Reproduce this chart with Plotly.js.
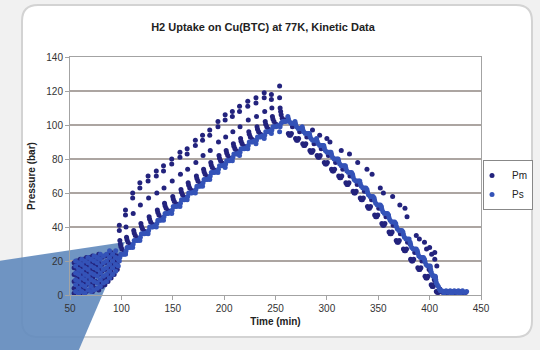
<!DOCTYPE html>
<html><head><meta charset="utf-8">
<script src="https://cdn.plot.ly/plotly-3.0.1.min.js"></script>
<style>html,body{margin:0;padding:0;background:#f1f1f1}#chart{width:540px;height:350px}</style>
</head><body><div id="chart"></div>
<script>
const seriesNames = ['Pm', 'Ps'];
const xTicks = [50, 100, 150, 200, 250, 300, 350, 400, 450];
const yTicks = [0, 20, 40, 60, 80, 100, 120, 140];

const pmTime = [
54,54,54,54,54,54,
57,57,57,57,57,57,
60,60,60,60,60,60,
63,63,63,63,63,63,
66,66,66,66,66,66,
69,69,69,69,69,69,
72,72,72,72,72,72,
75,75,75,75,75,
78,78,78,78,78,78,
81,81,81,81,81,
84,84,84,84,84,
87,87,87,87,87,
90,90,90,90,90,
93,93,93,93,
96,96,96,
98,98,98.5,99,99.5,100.5,102.5,104,
104,104,104.5,105,105.5,106.5,108.5,110,
111,111,111.5,112,112.5,113.5,115.5,117,
118,118,118.5,119,119.5,120.5,122.5,124,
126,126,126.5,127,127.5,128.5,130.5,132,
134,134,134.5,135,135.5,136.5,138.5,140,
141,141,141.5,142,142.5,143.5,145.5,147,
149,149,149.5,150,150.5,151.5,153.5,155,
157,157,157.5,158,158.5,159.5,161.5,163,
164,164,164.5,165,165.5,166.5,168.5,170,
172,172,172.5,173,173.5,174.5,176.5,178,
179,179,179.5,180,180.5,181.5,183.5,185,
186,186,186.5,187,187.5,188.5,190.5,192,
194,194,194.5,195,195.5,196.5,198.5,200,
201,201,201.5,202,202.5,203.5,205.5,207,
208,208,208.5,209,209.5,210.5,212.5,214,
215,215,215.5,216,216.5,217.5,219.5,221,
223,223,223.5,224,224.5,225.5,227.5,229,
231,231,231.5,232,232.5,233.5,235.5,237,
239,239,239.5,240,240.5,241.5,243.5,245,
246,246,246.5,247,247.5,248.5,250.5,252,
254,254,254.5,255,255.5,256.5,258.5,260,
262,262.5,263.5,264.5,265.5,266.5,267.5,
269,269.5,270.5,271.5,272.5,273.5,274.5,
276,276.5,277.5,278.5,279.5,280.5,281.5,
283,283.5,284.5,285.5,286.5,287.5,288.5,
290,290.5,291.5,292.5,293.5,294.5,295.5,
297,297.5,298.5,299.5,300.5,301.5,302.5,
304,304.5,305.5,306.5,307.5,308.5,309.5,
311,311.5,312.5,313.5,314.5,315.5,316.5,
318,318.5,319.5,320.5,321.5,322.5,323.5,
325,325.5,326.5,327.5,328.5,329.5,330.5,
332,332.5,333.5,334.5,335.5,336.5,337.5,
339,339.5,340.5,341.5,342.5,343.5,344.5,
346,346.5,347.5,348.5,349.5,350.5,351.5,
353,353.5,354.5,355.5,356.5,357.5,358.5,
360,360.5,361.5,362.5,363.5,364.5,365.5,
367,367.5,368.5,369.5,370.5,371.5,372.5,
374,374.5,375.5,376.5,377.5,378.5,379.5,
381,381.5,382.5,383.5,384.5,385.5,386.5,
388,388.5,389.5,390.5,391.5,392.5,393.5,
395,395.5,396.5,397.5,398.5,399.5,400.5,
401,401.5,402.5,403.5,404,404.5,405.5,
406,406.5,407.5,408.5,409,409.5,410,
286,293,300,303,314,322,330,339,344,352,355,364,
371,376,378,387,390,395,397,400,402,405,405,407,
411,413,415,417,419,421,423,425,427,429,431,433,435
];
const pmPressure = [
1,4,8,12,16,19,
2,6,10,14,18,20,
1,5,9,13,17,21,
3,7,11,15,19,21,
2,6,10,14,18,22,
3,8,12,16,20,22,
2,6,10,15,19,23,
4,8,13,17,21,
3,7,12,16,20,24,
5,9,14,18,22,
6,10,15,19,23,
8,12,16,20,24,
10,14,18,22,25,
12,16,20,24,
15,19,23,
41,38,32,30,28.5,27,25.5,24.5,
50,47,40,34,32.5,31,29.5,28.5,
60,57,48,38,36.5,35,33.5,32.5,
66,63,53,42,40.5,39,37.5,36.5,
70,67,57,46,44.5,43,41.5,40.5,
73,70,60,50,48.5,47,45.5,44.5,
76,73,63,54,52.5,51,49.5,48.5,
80,77,67,58,56.5,55,53.5,52.5,
84,81,71,62,60.5,59,57.5,56.5,
86,83,74,66,64.5,63,61.5,60.5,
91,88,78,70,68.5,67,65.5,64.5,
94,91,82,74,72.5,71,69.5,68.5,
97,94,85,78,76.5,75,73.5,72.5,
102,99,90,82,80.5,79,77.5,76.5,
106,103,93,85,83.5,82,80.5,79.5,
108,105,96,89,87.5,86,84.5,83.5,
111,108,99,92,90.5,89,87.5,86.5,
114,111,103,96,94.5,93,91.5,90.5,
116,113,105,99,97.5,96,94.5,93.5,
119,116,108,102,100.5,99,97.5,96.5,
118,115,110,105,103.5,102,100.5,99.5,
123,116,110,108,106,104,103,102.5,
104,95,94,94,95,99,100.5,
101,92,91,91,92,96,97.5,
98,89,88,88,89,93,94.5,
94,85,84,84,85,89,90.5,
91,82,81,81,82,86,87.5,
87,78,77,77,78,82,83.5,
83,74,73,73,74,78,79.5,
79,70,69,69,70,74,75.5,
75,66,65,65,66,70,71.5,
70,61,60,60,61,65,66.5,
66,57,56,56,57,61,62.5,
61,52,51,51,52,56,57.5,
56,47,46,46,47,51,52.5,
51,42,41,41,42,46,47.5,
46,37,36,36,37,41,42.5,
41,32,31,31,32,36,37.5,
36,27,26,26,27,31,32.5,
30,21,20,20,21,25,26.5,
25,16,15,15,16,20,21.5,
20,11,10,10,11,15,16.5,
14,6,5,5,6,9,10.5,
8,2,1.5,1.5,2,3,3.5,
97,94,92,90,85,83,78,74,71,63,60,58,
53,51,46,35,33,31,27,28,24,25,21,17,
2,1.5,2,1,2,1.5,2,1,2,1.5,2,1,1.5
];

const psTime = [
55.5,55.5,55.5,55.5,55.5,55.5,
58.5,58.5,58.5,58.5,58.5,58.5,
61.5,61.5,61.5,61.5,61.5,61.5,
64.5,64.5,64.5,64.5,64.5,64.5,
67.5,67.5,67.5,67.5,67.5,67.5,
70.5,70.5,70.5,70.5,70.5,70.5,
73.5,73.5,73.5,73.5,73.5,73.5,
76.5,76.5,76.5,76.5,76.5,76.5,
79.5,79.5,79.5,79.5,79.5,79.5,
82.5,82.5,82.5,82.5,82.5,
85.5,85.5,85.5,85.5,85.5,
88.5,88.5,88.5,88.5,88.5,
91.5,91.5,91.5,91.5,
94.5,94.5,94.5,94.5,
97,97,
98,98.5,99.5,101,102.5,104,
104,104.5,105.5,107,108.5,110,
111,111.5,112.5,114,115.5,117,
118,118.5,119.5,121,122.5,124,
126,126.5,127.5,129,130.5,132,
134,134.5,135.5,137,138.5,140,
141,141.5,142.5,144,145.5,147,
149,149.5,150.5,152,153.5,155,
157,157.5,158.5,160,161.5,163,
164,164.5,165.5,167,168.5,170,
172,172.5,173.5,175,176.5,178,
179,179.5,180.5,182,183.5,185,
186,186.5,187.5,189,190.5,192,
194,194.5,195.5,197,198.5,200,
201,201.5,202.5,204,205.5,207,
208,208.5,209.5,211,212.5,214,
215,215.5,216.5,218,219.5,221,
223,223.5,224.5,226,227.5,229,
231,231.5,232.5,234,235.5,237,
239,239.5,240.5,242,243.5,245,
246,246.5,247.5,249,250.5,252,
254,254.5,255.5,257,258.5,260,
262,262.5,263.5,265,266.5,268,
269,269.5,270.5,272,273.5,275,
276,276.5,277.5,279,280.5,282,
283,283.5,284.5,286,287.5,289,
290,290.5,291.5,293,294.5,296,
297,297.5,298.5,300,301.5,303,
304,304.5,305.5,307,308.5,310,
311,311.5,312.5,314,315.5,317,
318,318.5,319.5,321,322.5,324,
325,325.5,326.5,328,329.5,331,
332,332.5,333.5,335,336.5,338,
339,339.5,340.5,342,343.5,345,
346,346.5,347.5,349,350.5,352,
353,353.5,354.5,356,357.5,359,
360,360.5,361.5,363,364.5,366,
367,367.5,368.5,370,371.5,373,
374,374.5,375.5,377,378.5,380,
381,381.5,382.5,384,385.5,387,
388,388.5,389.5,391,392.5,394,
395,395.5,396.5,398,399.5,400.5,
401,401.5,402.5,403.5,404.5,405.5,
406,406.5,407.5,408.5,409.5,410.5,
412,414,416,418,420,422,424,426,428,430,432,434,436
];
const psPressure = [
2,6,9,13,17,20,
1,4,8,12,15,19,
2,6,10,14,18,21,
1,5,9,12,16,20,
3,7,11,15,19,22,
2,5,9,13,17,21,
3,8,12,16,20,23,
4,7,11,15,19,22,
5,9,13,17,21,24,
7,11,15,19,23,
8,12,16,20,24,
10,14,18,22,26,
12,16,20,24,
14,18,22,26,
17,21,
20,22,24,24,24,24.5,
24,26,28,28,28,28.5,
28,30,32,32,32,32.5,
32,34,36,36,36,36.5,
36,38,40,40,40,40.5,
40,42,44,44,44,44.5,
44,46,48,48,48,48.5,
48,50,52,52,52,52.5,
52,54,56,56,56,56.5,
56,58,60,60,60,60.5,
60,62,64,64,64,64.5,
64,66,68,68,68,68.5,
68,70,72,72,72,72.5,
72,74,76,76,76,76.5,
75,77,79,79,79,79.5,
79,81,83,83,83,83.5,
82,84,86,86,86,86.5,
86,88,90,90,90,90.5,
89,91,93,93,93,93.5,
92,94,96,96,96,96.5,
95,97,99,99,99,99.5,
96,99,101,102,102,102,
105,103.5,102,101,101,101,
102,100.5,99,98,98,98,
99,97.5,96,95,95,95,
95,93.5,92,91,91,91,
92,90.5,89,88,88,88,
88,86.5,85,84,84,84,
84,82.5,81,80,80,80,
80,78.5,77,76,76,76,
76,74.5,73,72,72,72,
71,69.5,68,67,67,67,
67,65.5,64,63,63,63,
62,60.5,59,58,58,58,
57,55.5,54,53,53,53,
52,50.5,49,48,48,48,
47,45.5,44,43,43,43,
42,40.5,39,38,38,38,
37,35.5,34,33,33,33,
31,29.5,28,27,27,27,
26,24.5,23,22,22,22,
21,19.5,18,17,17,17,
15,13.5,12,11,11,11,
9,7,6,5,3.5,2.5,
2.5,1,2.5,1.5,2.5,1,2.5,1.5,2.5,1,2.5,1.5,2
];

// plot-area geometry in pixels (for decorative shapes)
const L = 70, R = 481, T = 57, B = 295;
const fx = p => (p - L) / (R - L);
const fy = p => (B - p) / (B - T);
function roundedBox(x0, y0, x1, y1, r) {
  return `M ${fx(x0 + r)} ${fy(y0)} L ${fx(x1 - r)} ${fy(y0)} Q ${fx(x1)} ${fy(y0)} ${fx(x1)} ${fy(y0 + r)} ` +
    `L ${fx(x1)} ${fy(y1 - r)} Q ${fx(x1)} ${fy(y1)} ${fx(x1 - r)} ${fy(y1)} ` +
    `L ${fx(x0 + r)} ${fy(y1)} Q ${fx(x0)} ${fy(y1)} ${fx(x0)} ${fy(y1 - r)} ` +
    `L ${fx(x0)} ${fy(y0 + r)} Q ${fx(x0)} ${fy(y0)} ${fx(x0 + r)} ${fy(y0)} Z`;
}
const wedge = `M ${fx(-2)} ${fy(261)} L ${fx(125)} ${fy(242)} L ${fx(78)} ${fy(352)} L ${fx(-2)} ${fy(352)} Z`;

const FONT = 'Liberation Sans, Arial, sans-serif';

const traces = [
  { type: 'scatter', mode: 'markers', name: seriesNames[0], x: pmTime, y: pmPressure,
    marker: { color: '#23237d', size: 5 } },
  { type: 'scatter', mode: 'markers', name: seriesNames[1], x: psTime, y: psPressure,
    marker: { color: '#3453b8', size: 5 } }
];

const layout = {
  width: 540, height: 350,
  paper_bgcolor: '#f1f1f1', plot_bgcolor: 'rgba(0,0,0,0)',
  margin: { l: L, r: 540 - R, t: T, b: 350 - B, pad: 0, autoexpand: false },
  font: { family: FONT, size: 10, color: '#333' },
  title: { text: 'H2 Uptake on Cu(BTC) at 77K, Kinetic Data', font: { family: FONT, size: 11, color: '#222', weight: 'bold' },
    xref: 'container', yref: 'container', x: 263 / 540, xanchor: 'center', y: 1 - 27 / 350, yanchor: 'middle' },
  xaxis: { range: [50, 450], tickvals: xTicks, ticktext: xTicks.map(String), showgrid: false, zeroline: false,
    showline: true, linecolor: '#a3a3a3', linewidth: 1, mirror: true,
    ticks: 'outside', ticklen: 4, tickcolor: '#a3a3a3', tickfont: { size: 10, color: '#333' },
    title: { text: 'Time (min)', font: { size: 10, color: '#222', weight: 'bold' }, standoff: 4 } },
  yaxis: { range: [0, 140], tickvals: yTicks, ticktext: yTicks.map(String), showgrid: true, gridcolor: '#aca5a1', gridwidth: 1.2,
    zeroline: false, showline: true, linecolor: '#a3a3a3', linewidth: 1, mirror: true,
    ticks: 'outside', ticklen: 4, tickcolor: '#a3a3a3', tickfont: { size: 10, color: '#333' },
    title: { text: 'Pressure (bar)', font: { size: 10, color: '#222', weight: 'bold' }, standoff: 8 } },
  legend: { xref: 'container', yref: 'container', x: 483 / 540, y: 1 - 160 / 350, xanchor: 'left', yanchor: 'top', bgcolor: '#ffffff',
    bordercolor: '#888', borderwidth: 1, font: { size: 10, color: '#222' }, itemwidth: 30, indentation: -12 },
  shapes: [
    { type: 'path', xref: 'paper', yref: 'paper', path: roundedBox(22, 5, 532, 337, 16),
      fillcolor: '#ffffff', line: { color: '#d3d3d3', width: 2 }, layer: 'below' },
    { type: 'path', xref: 'paper', yref: 'paper', path: wedge,
      fillcolor: '#6189bc', line: { width: 0 }, layer: 'below', opacity: 0.9 }
  ],
  showlegend: true
};

Plotly.newPlot('chart', traces, layout, { staticPlot: true, displayModeBar: false });
</script></body></html>
